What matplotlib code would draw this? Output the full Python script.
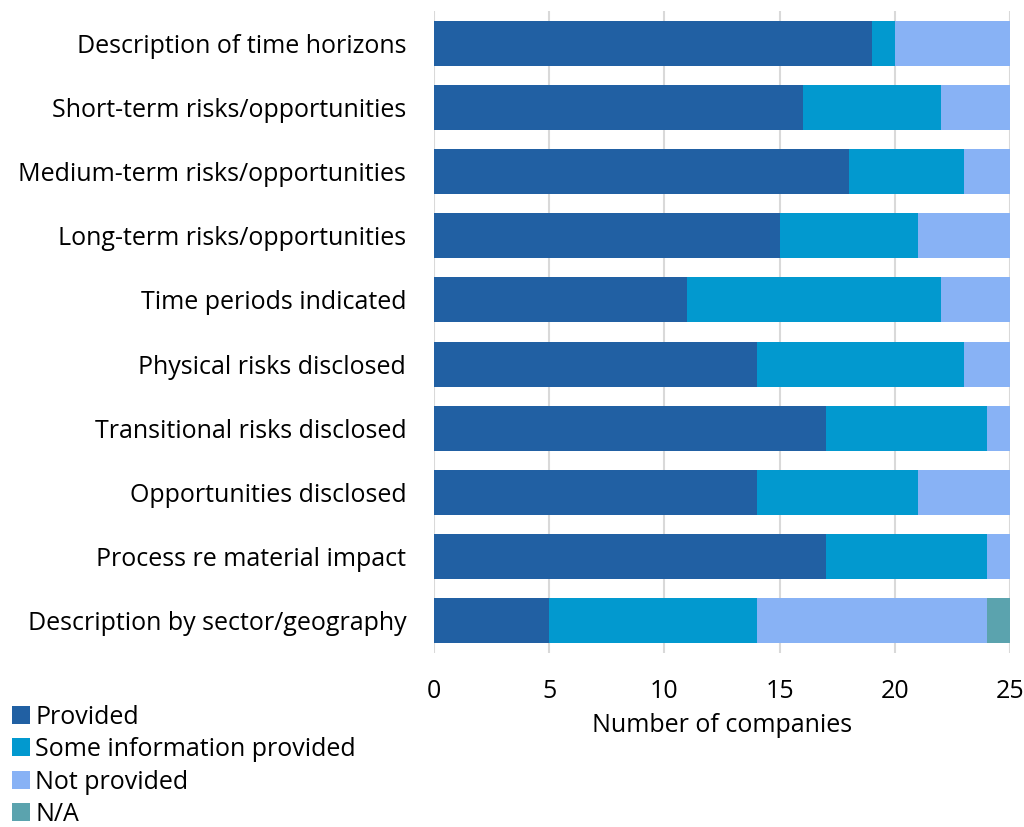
import matplotlib.pyplot as plt
import numpy as np

# Disclosure categories (top to bottom as shown)
categories = ['Description of time horizons', 'Short-term risks/opportunities',
              'Medium-term risks/opportunities', 'Long-term risks/opportunities',
              'Time periods indicated', 'Physical risks disclosed',
              'Transitional risks disclosed', 'Opportunities disclosed',
              'Process re material impact', 'Description by sector/geography']
provided = [19, 16, 18, 15, 11, 14, 17, 14, 17, 5]
some_info = [1, 6, 5, 6, 11, 9, 7, 7, 7, 9]
not_provided = [5, 3, 2, 4, 3, 2, 1, 4, 1, 10]
not_applicable = [0, 0, 0, 0, 0, 0, 0, 0, 0, 1]

series_names = ['Provided', 'Some information provided', 'Not provided', 'N/A']
colors = ['#2160A3', '#0299CF', '#88B2F5', '#5BA3AE']

plt.rcParams['font.family'] = ['Open Sans', 'DejaVu Sans']
fs = 18

fig = plt.figure(figsize=(10.24, 8.27), dpi=100)
ax = fig.add_axes([0.4238, 0.2104, 0.5625, 0.7763])

y = np.arange(len(categories))
left = np.zeros(len(categories))
for name, vals, col in zip(series_names, [provided, some_info, not_provided, not_applicable], colors):
    ax.barh(y, vals, left=left, height=0.7, color=col, label=name, zorder=3)
    left += np.array(vals)

ax.set_ylim(len(categories) - 0.5, -0.5)
ax.set_xlim(0, 25)
ax.set_yticks(y)
ax.set_yticklabels(categories, fontsize=fs)
ax.set_xticks(range(0, 26, 5))
ax.tick_params(axis='x', labelsize=fs, length=0, pad=19)
ax.tick_params(axis='y', length=0, pad=20)
ax.grid(axis='x', color='#D9D9D9', linewidth=1.5, zorder=0)
for s in ax.spines.values():
    s.set_visible(False)
ax.set_xlabel('Number of companies', fontsize=fs, labelpad=6)

fig.legend(loc='upper left', bbox_to_anchor=(0.012, 0.148), frameon=False,
           fontsize=fs, handlelength=0.72, handleheight=0.72, handletextpad=0.2,
           labelspacing=0.3, borderaxespad=0, borderpad=0)

fig.savefig('out.png', dpi=100)
